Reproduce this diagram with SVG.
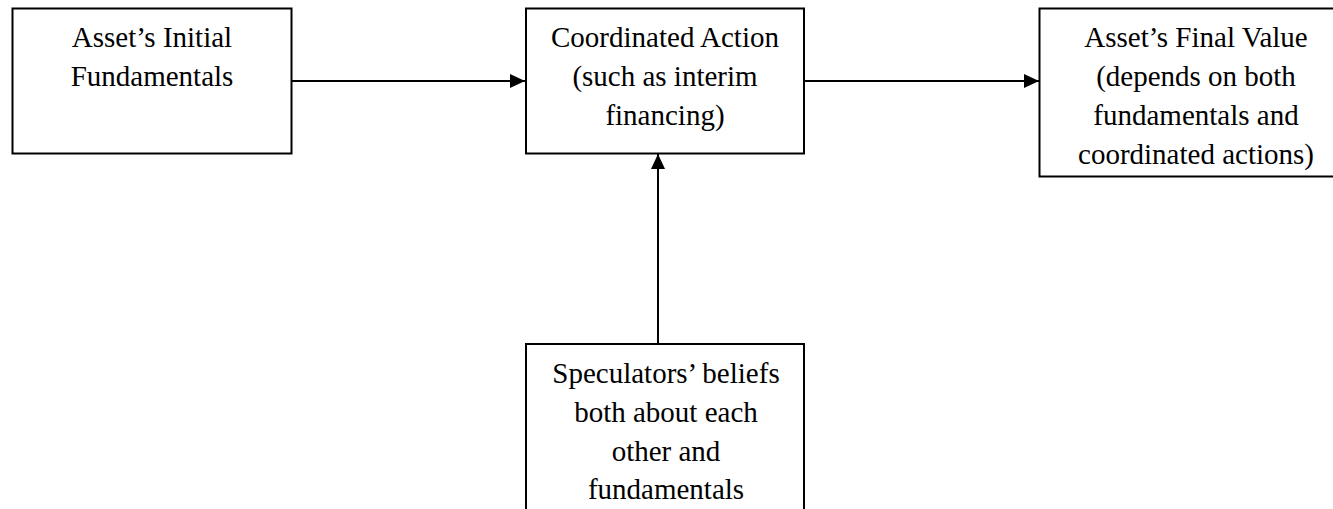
<svg xmlns="http://www.w3.org/2000/svg" width="1333" height="509" viewBox="0 0 1333 509">
<style>
.box{fill:#fff;stroke:#000;stroke-width:2}
.lbl{font-family:"Liberation Serif","Times New Roman",serif;font-size:29px;fill:#000;text-anchor:middle}
.conn{stroke:#000;stroke-width:2;fill:none}
</style>
<defs>
<marker id="ah" markerUnits="userSpaceOnUse" markerWidth="15" markerHeight="14" refX="15" refY="7" orient="auto">
<path d="M0,0 L15,7 L0,14 z" fill="#000"/>
</marker>
</defs>
<rect width="1333" height="509" fill="#fff"/>
<g id="connectors">
<line class="conn" x1="292" y1="81" x2="525" y2="81" marker-end="url(#ah)"/>
<line class="conn" x1="804" y1="81" x2="1039" y2="81" marker-end="url(#ah)"/>
<line class="conn" x1="658" y1="344" x2="658" y2="154" marker-end="url(#ah)"/>
</g>
<g id="initial">
<rect class="box" x="12.5" y="8.5" width="279" height="145"/>
<text class="lbl" x="152" y="46.5">Asset’s Initial</text>
<text class="lbl" x="152" y="86">Fundamentals</text>
</g>
<g id="action">
<rect class="box" x="526" y="8.5" width="278" height="145"/>
<text class="lbl" x="665" y="46.5">Coordinated Action</text>
<text class="lbl" x="665" y="86">(such as interim</text>
<text class="lbl" x="665" y="125">financing)</text>
</g>
<g id="final">
<rect class="box" x="1039.5" y="8.5" width="320" height="168"/>
<text class="lbl" x="1196" y="46.5">Asset’s Final Value</text>
<text class="lbl" x="1196" y="86">(depends on both</text>
<text class="lbl" x="1196" y="125">fundamentals and</text>
<text class="lbl" x="1196" y="164">coordinated actions)</text>
</g>
<g id="beliefs">
<rect class="box" x="526" y="344" width="278" height="200"/>
<text class="lbl" x="666" y="383">Speculators’ beliefs</text>
<text class="lbl" x="666" y="422">both about each</text>
<text class="lbl" x="666" y="460.5">other and</text>
<text class="lbl" x="666" y="499">fundamentals</text>
</g>
</svg>
